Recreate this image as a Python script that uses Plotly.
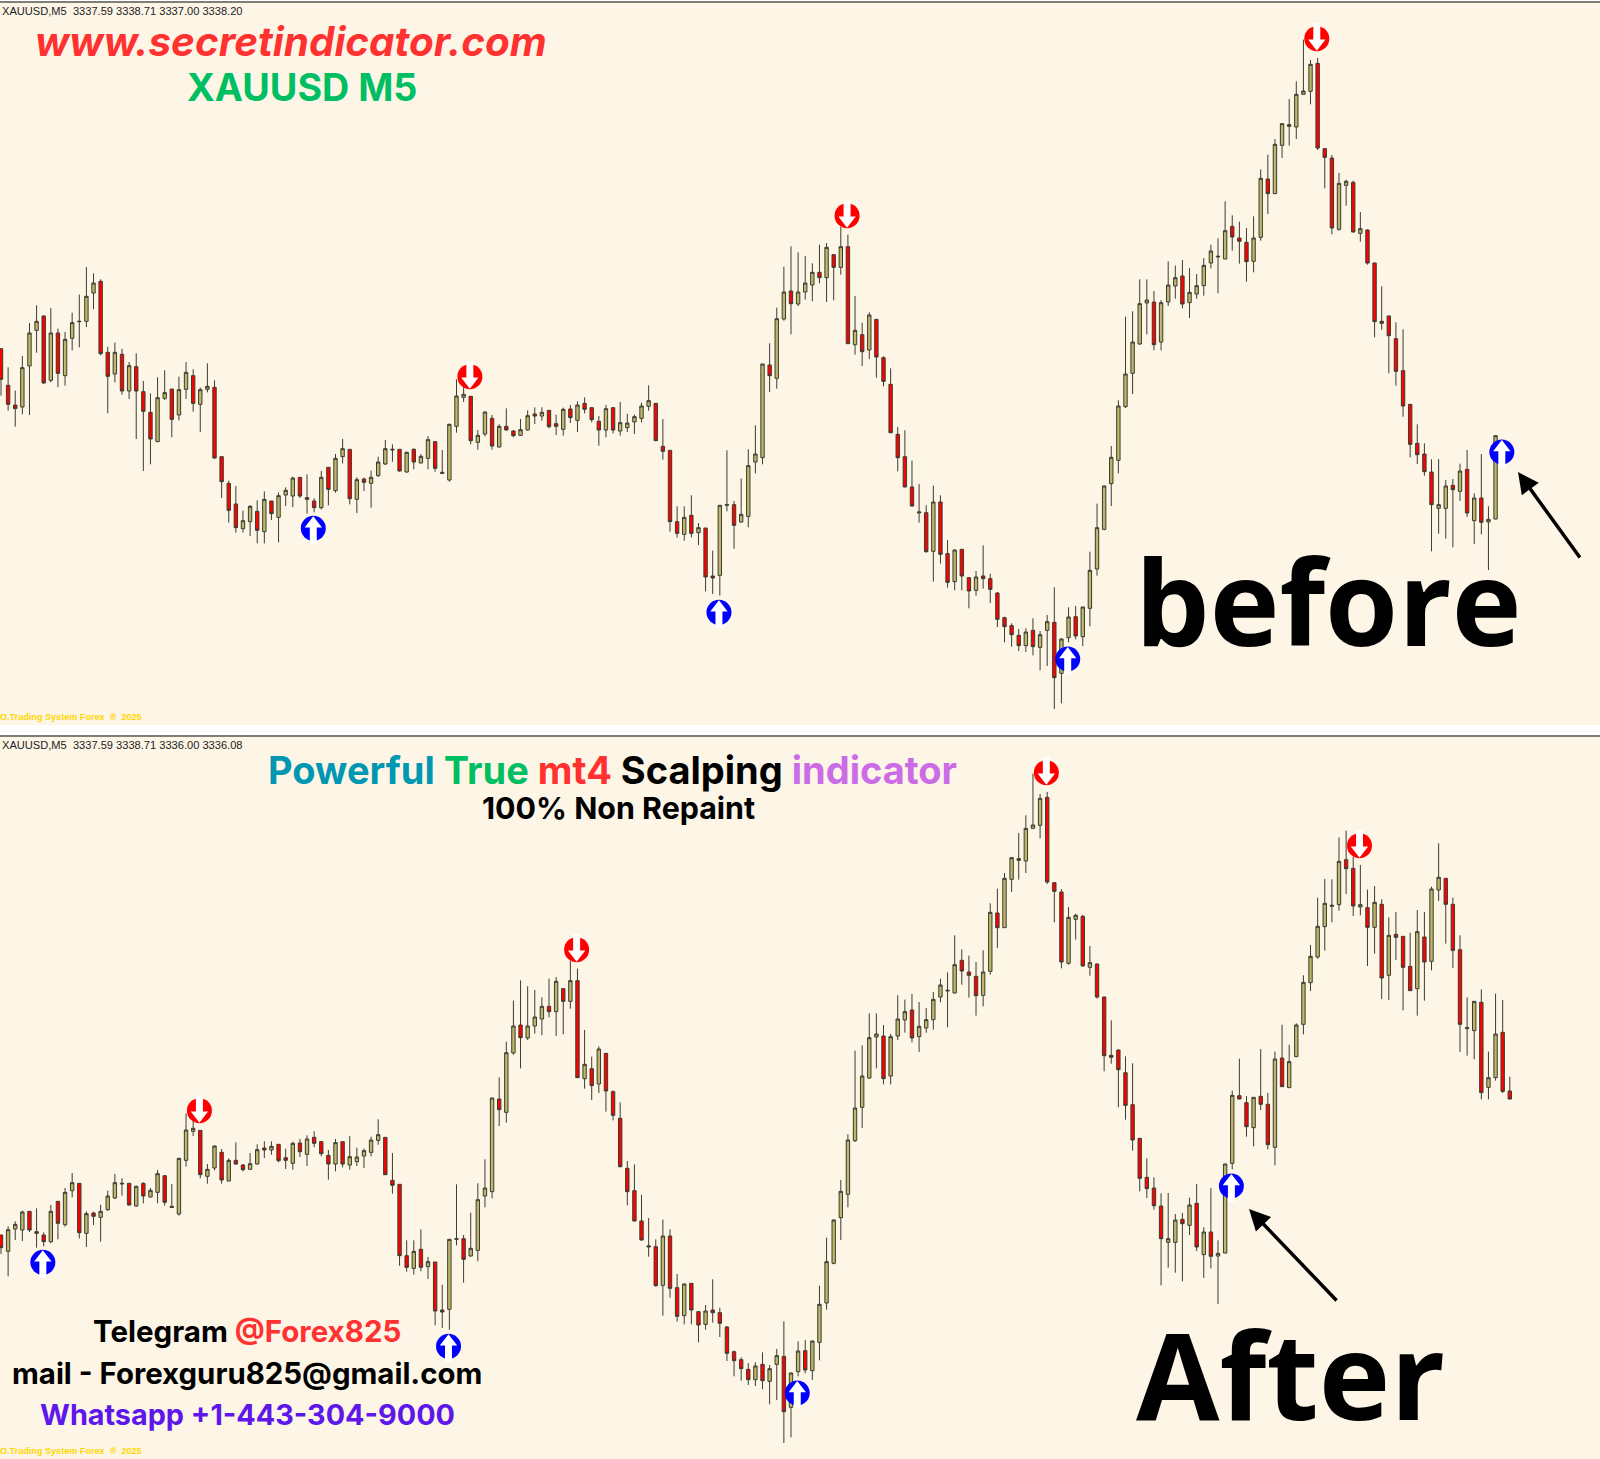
# XAUUSD M5 before / after signal chart

import numpy as np
import plotly.graph_objects as go

# Quotes for bars 0..250, in points above BASE_PRICE (100 points = 1.00)
BASE_PRICE = 3318.0

open_pts = [
    1144, 1034, 975, 969, 1092, 1199, 1242, 1049, 1191, 1063, 1175, 1225, 1226, 1311, 1346, 1133, 1068, 1127, 1017, 1090,
    1015, 953, 865, 995, 1023, 945, 1022, 1063, 977, 1022, 1028, 820, 740, 678, 604, 625, 656, 595, 687, 638,
    705, 702, 758, 697, 687, 667, 788, 718, 820, 842, 692, 753, 740, 763, 798, 840, 842, 774, 842, 801,
    815, 865, 773, 750, 911, 998, 1001, 863, 888, 935, 849, 911, 897, 884, 900, 948, 942, 959, 919, 902,
    963, 929, 980, 967, 926, 900, 967, 897, 907, 924, 935, 971, 980, 851, 839, 625, 587, 644, 592, 606,
    462, 464, 674, 676, 624, 641, 804, 817, 1095, 1055, 1233, 1317, 1278, 1314, 1335, 1373, 1357, 1426, 1388, 1450,
    1156, 1186, 1140, 1232, 1117, 1037, 887, 820, 729, 651, 652, 536, 684, 529, 445, 542, 457, 419, 462, 454,
    411, 337, 313, 284, 253, 299, 248, 299, 323, 170, 277, 340, 280, 365, 483, 602, 739, 809, 970, 1070,
    1158, 1281, 1284, 1164, 1284, 1332, 1362, 1282, 1308, 1333, 1401, 1419, 1413, 1511, 1476, 1463, 1406, 1478, 1653, 1609,
    1754, 1816, 1809, 1907, 1916, 2000, 1744, 1716, 1502, 1634, 1643, 1490, 1500, 1401, 1226, 1242, 1174, 1078, 977, 860,
    828, 774, 665, 665, 734, 716, 782, 628, 696, 624, 633, 902, 1105, 1084, 1009, 1103, 1079, 950, 1218, 1129,
    1222, 1319, 1444, 1521, 1612, 1673, 1678, 1813, 1787, 1671, 1669, 1610, 1679, 1466, 1589, 1583, 1493, 1426, 1581, 1508,
    1722, 1757, 1679, 1543, 1306, 1300, 1385, 1130, 1159, 1295, 1119,
]
high_pts = [
    1144, 1088, 1018, 1122, 1221, 1274, 1244, 1266, 1204, 1194, 1252, 1306, 1389, 1370, 1352, 1150, 1162, 1144, 1104, 1130,
    1047, 1010, 1058, 1079, 1023, 1060, 1104, 1082, 1027, 1100, 1049, 820, 748, 732, 658, 675, 689, 716, 687, 713,
    728, 760, 758, 767, 695, 777, 788, 828, 873, 842, 758, 757, 778, 820, 870, 857, 842, 835, 845, 828,
    882, 866, 840, 919, 1052, 1035, 1001, 900, 956, 945, 917, 965, 900, 933, 959, 968, 968, 960, 946, 967,
    975, 986, 998, 968, 942, 975, 968, 984, 949, 946, 982, 1034, 980, 933, 839, 671, 671, 704, 621, 606,
    538, 675, 839, 687, 754, 842, 914, 1099, 1160, 1267, 1390, 1451, 1433, 1422, 1400, 1456, 1461, 1428, 1510, 1486,
    1302, 1222, 1253, 1233, 1121, 1085, 909, 899, 808, 738, 674, 733, 704, 570, 542, 543, 458, 477, 554, 469,
    414, 340, 320, 303, 305, 335, 297, 345, 428, 275, 368, 372, 370, 535, 679, 734, 852, 989, 1240, 1256,
    1352, 1352, 1317, 1290, 1406, 1393, 1410, 1386, 1368, 1416, 1456, 1475, 1586, 1544, 1525, 1506, 1541, 1682, 1726, 1773,
    1821, 1893, 1946, 2071, 2010, 2016, 1746, 1725, 1671, 1651, 1648, 1554, 1502, 1402, 1331, 1243, 1223, 1202, 978, 917,
    860, 812, 813, 750, 753, 799, 840, 710, 828, 671, 901, 1120, 1216, 1104, 1101, 1245, 1114, 1237, 1318, 1258,
    1322, 1466, 1557, 1699, 1755, 1754, 1880, 1900, 1822, 1797, 1723, 1734, 1694, 1640, 1656, 1583, 1594, 1662, 1656, 1732,
    1862, 1758, 1699, 1586, 1400, 1389, 1424, 1237, 1411, 1392, 1162,
]
low_pts = [
    1003, 958, 910, 947, 945, 1132, 1039, 1043, 1028, 1033, 1139, 1148, 1209, 1262, 1124, 950, 1043, 1006, 993, 873,
    777, 797, 864, 990, 878, 929, 993, 955, 894, 1013, 814, 696, 622, 592, 592, 582, 560, 560, 630, 563,
    672, 669, 696, 649, 653, 662, 674, 712, 800, 677, 651, 717, 667, 759, 795, 805, 775, 772, 782, 800,
    782, 775, 768, 745, 892, 984, 857, 841, 881, 841, 848, 898, 878, 882, 899, 918, 928, 905, 885, 883,
    921, 894, 950, 923, 853, 878, 890, 883, 894, 888, 923, 958, 867, 811, 595, 577, 568, 578, 555, 416,
    408, 403, 656, 544, 622, 608, 770, 797, 1014, 1024, 1228, 1187, 1272, 1291, 1286, 1340, 1284, 1289, 1366, 1158,
    1126, 1092, 1113, 1057, 1031, 890, 776, 728, 670, 622, 532, 445, 499, 427, 419, 419, 365, 403, 424, 381,
    309, 263, 250, 237, 234, 224, 179, 192, 63, 80, 263, 272, 252, 311, 463, 599, 672, 770, 966, 1008,
    1156, 1187, 1139, 1139, 1272, 1294, 1265, 1236, 1294, 1303, 1385, 1310, 1412, 1438, 1399, 1345, 1373, 1468, 1548, 1608,
    1716, 1753, 1773, 1906, 1877, 1740, 1625, 1487, 1498, 1573, 1493, 1465, 1396, 1178, 1201, 1070, 1033, 940, 818, 798,
    763, 536, 589, 574, 548, 687, 639, 558, 587, 480, 632, 884, 1094, 982, 953, 1062, 944, 896, 1131, 1128,
    1221, 1289, 1419, 1516, 1540, 1625, 1660, 1710, 1644, 1646, 1494, 1531, 1395, 1392, 1512, 1361, 1419, 1345, 1390, 1481,
    1689, 1561, 1488, 1236, 1225, 1214, 1094, 1094, 1150, 1113, 1094,
]
close_pts = [
    1052, 977, 964, 1087, 1191, 1226, 1041, 1191, 1070, 1172, 1222, 1226, 1301, 1341, 1129, 1061, 1133, 1017, 1093, 1017,
    956, 873, 997, 1012, 932, 1021, 1073, 980, 1021, 1031, 816, 745, 659, 607, 628, 671, 599, 692, 649, 703,
    719, 756, 702, 692, 667, 758, 722, 815, 844, 694, 751, 743, 758, 804, 844, 842, 777, 833, 804, 821,
    871, 785, 770, 917, 1002, 1007, 868, 884, 954, 852, 911, 900, 883, 901, 943, 942, 953, 910, 911, 962,
    937, 975, 962, 931, 900, 964, 900, 922, 921, 940, 972, 988, 868, 836, 625, 590, 638, 590, 607, 459,
    456, 674, 676, 614, 647, 793, 828, 1098, 1063, 1234, 1314, 1279, 1314, 1341, 1373, 1357, 1448, 1388, 1450, 1159,
    1199, 1135, 1245, 1119, 1046, 892, 817, 729, 672, 654, 535, 684, 527, 443, 540, 462, 417, 459, 454, 422,
    332, 310, 286, 253, 294, 250, 286, 325, 157, 273, 339, 282, 369, 479, 607, 732, 818, 972, 1068, 1164,
    1279, 1290, 1156, 1282, 1335, 1357, 1278, 1313, 1333, 1394, 1437, 1421, 1498, 1479, 1466, 1405, 1476, 1655, 1609, 1757,
    1819, 1811, 1907, 1917, 1997, 1746, 1718, 1506, 1640, 1646, 1494, 1504, 1401, 1225, 1220, 1183, 1076, 972, 857, 826,
    775, 676, 676, 732, 721, 777, 651, 696, 623, 632, 900, 1106, 1095, 1012, 1100, 1079, 958, 1215, 1132, 1207,
    1317, 1445, 1523, 1613, 1682, 1676, 1808, 1786, 1674, 1678, 1610, 1685, 1458, 1586, 1580, 1490, 1420, 1597, 1506, 1725,
    1760, 1679, 1541, 1319, 1309, 1388, 1114, 1159, 1290, 1118, 1095,
]

# Bar 210 was still open when the top screenshot was taken
TOP_LAST_BAR = 210
top_live_close = 883
top_live_high = 884

# First bar of the lower screenshot
BOTTOM_FIRST_BAR = 38

# Signal arrows (bar number, level in points)
up_bars = [44, 101, 150, 211]
up_levels = [605, 353, 213, 834]
down_bars = [66, 119, 185, 229]
down_levels = [1060, 1543, 2074, 1855]

header_top = "XAUUSD,M5  3337.59 3338.71 3337.00 3338.20"
header_bottom = "XAUUSD,M5  3337.59 3338.71 3336.00 3336.08"
footer = "O.Trading System Forex  ®  2025"

WIDTH = 1600
HEIGHT = 1459
BG = "#FDF5E6"
BAR_PITCH = 7.117
TEXT_FONT = "Inter"
BIG_FONT = "Open Sans"


def to_price(points):
    return BASE_PRICE + np.array(points, dtype=float) / 100


def px(x):
    return x / WIDTH


def py(y):
    return 1 - y / HEIGHT


def add_candles(fig, bars, o, h, l, c, xaxis, yaxis):
    """Candles in the MT4 khaki and red scheme."""
    fig.add_trace(go.Candlestick(
        x=bars, open=to_price(o), high=to_price(h), low=to_price(l), close=to_price(c),
        xaxis=xaxis, yaxis=yaxis, whiskerwidth=0,
        increasing=dict(fillcolor="#BDB76B", line=dict(color="#3C3C30", width=1)),
        decreasing=dict(fillcolor="#FF0000", line=dict(color="#3C3C30", width=1)),
        hoverinfo="skip",
    ))


def add_signals(fig, bars, levels, is_up, xaxis, yaxis):
    """Round badge with a white arrow cut through it."""
    side = 1 if is_up else -1
    color = "#0000FF" if is_up else "#FF0000"
    head = "triangle-up" if is_up else "triangle-down"
    x = np.array(bars) - 0.12
    y = to_price(levels)
    layers = [
        (y, dict(symbol="circle", size=25, color=color, line=dict(width=0))),
        (y - side * 0.17, dict(symbol="line-ns", size=14, line=dict(color="white", width=7))),
        (y + side * 0.135, dict(symbol=head, size=15, color="white", line=dict(width=0))),
    ]
    for ys, marker in layers:
        fig.add_trace(go.Scatter(x=x, y=ys, mode="markers", marker=marker,
                                 xaxis=xaxis, yaxis=yaxis, hoverinfo="skip"))


def label(text, x, y, size, color="black", anchor="center", **kw):
    return dict(text=text, x=px(x), y=py(y), xref="paper", yref="paper", showarrow=False,
                xanchor=anchor, yanchor="middle", borderpad=0,
                font=dict(family=kw.get("family", TEXT_FONT), size=size, color=color,
                          weight=kw.get("weight", 700), style=kw.get("style", "normal")))


def pointer(tip_x, tip_y, tail_x, tail_y):
    return dict(x=px(tip_x), y=py(tip_y), xref="paper", yref="paper", text="",
                showarrow=True, arrowhead=2, arrowsize=1.2, arrowwidth=3.5, arrowcolor="black",
                ax=tail_x - tip_x, ay=tail_y - tip_y, axref="pixel", ayref="pixel")


def coloured(word, color):
    return f'<span style="color:{color}">{word}</span>'


def main():
    bars = np.arange(len(open_pts))
    fig = go.Figure()

    # Top screenshot, last bar as it stood at the time
    n_top = TOP_LAST_BAR + 1
    top_close = close_pts[:n_top]
    top_high = high_pts[:n_top]
    top_close[-1] = top_live_close
    top_high[-1] = top_live_high
    add_candles(fig, bars[:n_top], open_pts[:n_top], top_high, low_pts[:n_top], top_close, "x", "y")
    add_signals(fig, [b for b in up_bars if b <= 211], [v for b, v in zip(up_bars, up_levels) if b <= 211], True, "x", "y")
    add_signals(fig, [b for b in down_bars if b <= 211], [v for b, v in zip(down_bars, down_levels) if b <= 211], False, "x", "y")

    # Bottom screenshot, same feed later on
    s = BOTTOM_FIRST_BAR
    add_candles(fig, bars[s:], open_pts[s:], high_pts[s:], low_pts[s:], close_pts[s:], "x2", "y2")
    add_signals(fig, up_bars, up_levels, True, "x2", "y2")
    add_signals(fig, down_bars, down_levels, False, "x2", "y2")

    y_range = [BASE_PRICE + 0.15, BASE_PRICE + 21.81]
    left = -1 / BAR_PITCH
    right = left + WIDTH / BAR_PITCH

    annotations = [
        label(header_top, 1, 11, 11.1, "#222222", "left", family="Liberation Sans", weight=400),
        label(header_bottom, 1, 745, 11.1, "#222222", "left", family="Liberation Sans", weight=400),
        label(footer, -1, 717, 9.1, "#FFD700", "left", family="Liberation Sans"),
        label(footer, -1, 1451, 9.1, "#FFD700", "left", family="Liberation Sans"),
        label("www.secretindicator.com", 291, 42, 40.4, "#FF3131", style="italic"),
        label("XAUUSD M5", 302, 87, 37.7, "#00BF63"),
        label("before", 1328, 600, 118, family=BIG_FONT),
        label("After", 1290, 1373, 121, family=BIG_FONT),
        label(coloured("Powerful", "#0097B2") + " " + coloured("True", "#00BF63") + " "
              + coloured("mt4", "#FF3131") + " " + coloured("Scalping", "#000000") + " "
              + coloured("indicator", "#CB6CE6"), 612, 770, 38),
        label("100% Non Repaint", 618, 808, 30.4),
        label("Telegram " + coloured("@Forex825", "#FF3131"), 247, 1331, 29.5),
        label("mail - Forexguru825@gmail.com", 247, 1373, 29.4),
        label("Whatsapp +1-443-304-9000", 247, 1414, 28.8, "#5E17EB"),
        pointer(1518, 472, 1581, 559),
        pointer(1249, 1209, 1338, 1302),
    ]

    # Window borders
    shapes = [
        dict(type="line", xref="paper", yref="paper", x0=0, x1=1, y0=py(2), y1=py(2),
             line=dict(color="#7F7F78", width=2)),
        dict(type="line", xref="paper", yref="paper", x0=0, x1=1, y0=py(736), y1=py(736),
             line=dict(color="#7F7F78", width=2)),
    ]

    fig.update_layout(
        width=WIDTH, height=HEIGHT, margin=dict(l=0, r=0, t=0, b=0, pad=0),
        paper_bgcolor="white", plot_bgcolor=BG, showlegend=False, boxgap=0.32,
        xaxis=dict(domain=[0, 1], range=[left, right], visible=False, rangeslider=dict(visible=False), anchor="y"),
        yaxis=dict(domain=[py(725), py(3)], range=y_range, visible=False, anchor="x"),
        xaxis2=dict(domain=[0, 1], range=[left + s, right + s], visible=False, rangeslider=dict(visible=False), anchor="y2"),
        yaxis2=dict(domain=[0, py(737)], range=y_range, visible=False, anchor="x2"),
        annotations=annotations, shapes=shapes,
    )

    fig.write_html("out.html", config={"displayModeBar": False},
                   post_script="document.body.style.margin='0';document.body.style.overflow='hidden';")


if __name__ == "__main__":
    main()
